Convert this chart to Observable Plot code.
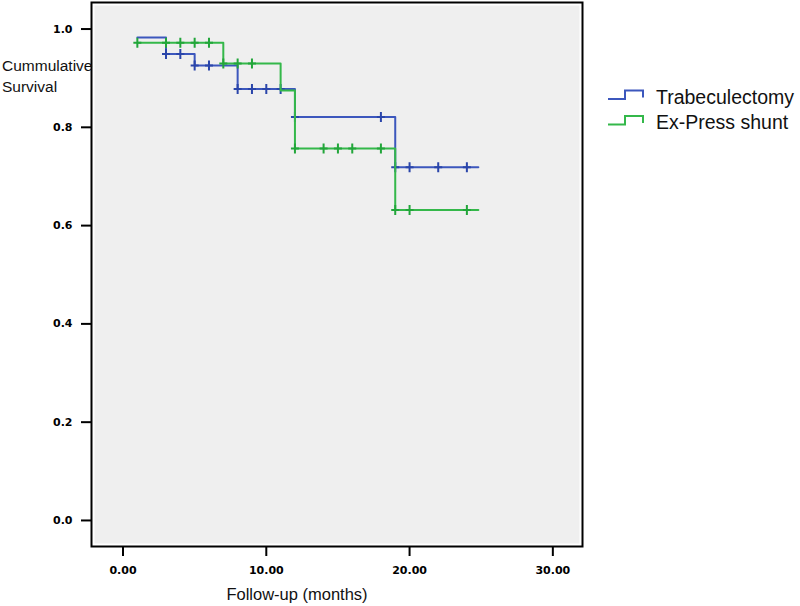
<!DOCTYPE html>
<html>
<head>
<meta charset="utf-8">
<script src="https://cdn.jsdelivr.net/npm/d3@7"></script>
<script src="https://cdn.jsdelivr.net/npm/@observablehq/plot@0.6"></script>
<style>
  html, body { margin: 0; padding: 0; background: #fff; }
  #wrap { position: relative; width: 800px; height: 606px; overflow: hidden; }
  #wrap svg.plot { position: absolute; left: 0; top: 0; }
  .lbl { position: absolute; font-family: "Liberation Sans", Arial, sans-serif; color: #111; white-space: nowrap; }
</style>
</head>
<body>
<div id="wrap"></div>
<script>
// ---- data ----
const groups = ["Trabeculectomy", "Ex-Press shunt"];
const colors = ["#3c57bd", "#34b84a"];
const markColors = ["#2a45aa", "#22a63a"];

const trabTime = [1, 3, 5, 8, 12, 19, 24.8];
const trabSurv = [0.983, 0.949, 0.926, 0.878, 0.821, 0.719, 0.719];
const trabCensor = [3, 4, 5, 6, 8, 9, 10, 11, 12, 18, 19, 20, 22, 24];

const exTime = [1, 7, 11, 12, 19, 24.8];
const exSurv = [0.972, 0.930, 0.875, 0.757, 0.632, 0.632];
const exCensor = [1, 3, 4, 5, 6, 7, 8, 9, 12, 14, 15, 16, 18, 19, 20, 24];

const xTicks = [0, 10, 20, 30];
const yTicks = [0, 0.2, 0.4, 0.6, 0.8, 1.0];
const xLabel = "Follow-up (months)";
const yLabel = ["Cummulative", "Survival"];

// ---- build tables ----
const series = [
  {name: groups[0], times: trabTime, survs: trabSurv, censor: trabCensor},
  {name: groups[1], times: exTime, survs: exSurv, censor: exCensor}
];
function survAt(s, t) {
  let v = s.survs[0];
  s.times.forEach((tt, i) => { if (tt <= t) v = s.survs[i]; });
  return v;
}
const lineData = series.map(s => s.times.map((t, i) => ({t, s: s.survs[i]})));
const censorData = series.map(s => s.censor.map(t => ({t, s: survAt(s, t)})));

const cross = {
  draw(ctx) {
    ctx.moveTo(0, -5); ctx.lineTo(0, 5);
    ctx.moveTo(-4, 0); ctx.lineTo(4, 0);
  }
};

const marks = [
  Plot.frame({fill: "#efefef", stroke: "none", inset: 3}),
  Plot.axisX({ticks: xTicks, tickFormat: d3.format(".2f"), tickSize: 10, tickPadding: 10, strokeWidth: 2, stroke: "#000", label: null, fill: "#000"}),
  Plot.axisY({ticks: yTicks, tickFormat: d3.format(".1f"), tickSize: 10, tickPadding: 9, strokeWidth: 2, stroke: "#000", label: null, fill: "#000"})
];
series.forEach((s, k) => {
  marks.push(Plot.line(lineData[k], {x: "t", y: "s", curve: "step-after", stroke: colors[k], strokeWidth: 2}));
  marks.push(Plot.dot(censorData[k], {x: "t", y: "s", symbol: cross, stroke: markColors[k], fill: "none", strokeWidth: 2}));
});
marks.push(Plot.frame({stroke: "#000", strokeWidth: 2}));

const chart = Plot.plot({
  width: 800,
  height: 606,
  marginLeft: 91,
  marginRight: 218,
  marginTop: 2,
  marginBottom: 60,
  x: {domain: [-2.2, 32.07]},
  y: {domain: [-0.053, 1.054]},
  style: {fontFamily: "'DejaVu Sans', sans-serif", fontSize: "11px", fontWeight: "bold", background: "transparent", overflow: "visible"},
  marks
});
chart.classList.add("plot");
const wrap = document.getElementById("wrap");
wrap.appendChild(chart);

// y-axis title
const yt = document.createElement("div");
yt.className = "lbl";
yt.style.left = "2px"; yt.style.top = "55px";
yt.style.fontSize = "15.5px"; yt.style.lineHeight = "21px";
yt.innerHTML = yLabel.join("<br>");
wrap.appendChild(yt);

// x-axis title
const xt = document.createElement("div");
xt.className = "lbl";
xt.style.left = "297px"; xt.style.top = "584px";
xt.style.transform = "translateX(-50%)";
xt.style.fontSize = "16.5px"; xt.style.lineHeight = "20px";
xt.textContent = xLabel;
wrap.appendChild(xt);

// legend
const legY = [99, 124.5];
const ns = "http://www.w3.org/2000/svg";
const lsvg = document.createElementNS(ns, "svg");
lsvg.setAttribute("width", 800); lsvg.setAttribute("height", 606);
lsvg.style.position = "absolute"; lsvg.style.left = "0"; lsvg.style.top = "0";
groups.forEach((g, k) => {
  const y = legY[k];
  const p = document.createElementNS(ns, "path");
  p.setAttribute("d", `M608,${y}H625V${y - 8.5}H643V${y - 1.5}`);
  p.setAttribute("fill", "none");
  p.setAttribute("stroke", colors[k]);
  p.setAttribute("stroke-width", 2);
  lsvg.appendChild(p);
  const t = document.createElementNS(ns, "text");
  t.setAttribute("x", 656);
  t.setAttribute("y", y + 4.5);
  t.setAttribute("font-family", "'Liberation Sans', Arial, sans-serif");
  t.setAttribute("font-size", "19.5px");
  t.setAttribute("fill", "#111");
  t.textContent = g;
  lsvg.appendChild(t);
});
wrap.appendChild(lsvg);
</script>
</body>
</html>
